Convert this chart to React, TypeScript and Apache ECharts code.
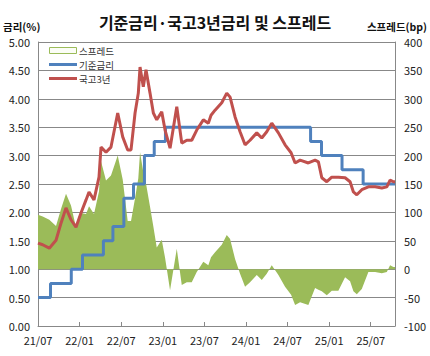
import React, { useEffect, useRef } from "react";
import * as echarts from "echarts";

// x values: months since 2021-07-01
const ktbX = [0, 0.68, 1.63, 2.6, 3.32, 4.04, 4.76, 5.48, 6.2, 6.93, 7.36, 8.08, 8.8, 9.09, 9.81, 10.53, 11.5, 12.22, 12.94, 13.42,
  14.0, 14.47, 14.72, 15.19, 15.58, 16.16, 16.64, 17.13, 17.85, 18.33, 19.05, 20.02, 20.74, 21.46, 22.18, 22.9, 23.85, 24.57, 24.96,
  25.54, 26.51, 27.23, 27.71, 28.43, 29.15, 29.87, 30.59, 31.56, 32.28, 33.0, 33.72, 34.68, 35.64, 36.51, 37.09, 37.81, 39.0, 39.97,
  40.45, 40.94, 41.66, 42.38, 43.33, 44.3, 45.02, 45.5, 45.99, 46.71, 47.66, 48.63, 49.6, 50.32, 50.79, 51.27, 51.5];
const ktbY = [1.46, 1.43, 1.37, 1.51, 1.81, 2.08, 1.87, 1.74, 1.99, 2.22, 2.36, 2.22, 2.62, 3.15, 3.06, 3.15, 3.75, 3.33, 3.1, 3.1,
  3.75, 4.1, 4.56, 4.21, 4.51, 4.1, 3.75, 3.63, 3.77, 3.45, 3.13, 3.86, 3.22, 3.27, 3.27, 3.45, 3.63, 3.57, 3.71,
  3.8, 3.93, 4.1, 4.03, 3.68, 3.42, 3.19, 3.27, 3.4, 3.31, 3.42, 3.57, 3.4, 3.19, 3.05, 2.87, 2.92, 2.87, 2.92,
  2.89, 2.61, 2.54, 2.62, 2.62, 2.61, 2.54, 2.36, 2.31, 2.4, 2.45, 2.45, 2.43, 2.45, 2.57, 2.54, 2.54];

const baseDates = ["2021-07-01", "2021-08-26", "2021-11-25", "2022-01-14", "2022-04-14", "2022-05-26", "2022-07-13", "2022-08-25",
  "2022-10-12", "2022-11-24", "2023-01-13", "2024-10-11", "2024-11-28", "2025-02-25", "2025-05-29", "2025-11-16"];
const baseRates = [0.5, 0.75, 1.0, 1.25, 1.5, 1.75, 2.25, 2.5, 3.0, 3.25, 3.5, 3.25, 3.0, 2.75, 2.5, 2.5];

const xTickLabels = ["21/07", "22/01", "22/07", "23/01", "23/07", "24/01", "24/07", "25/01", "25/07"];
const legendNames = ["스프레드", "기준금리", "국고3년"];

const toMonths = (s: string) => {
  const [y, m, d] = s.split("-").map(Number);
  const dim = new Date(y, m, 0).getDate();
  return (y - 2021) * 12 + (m - 7) + (d - 1) / dim;
};

const baseX = baseDates.map(toMonths);
const baseAt = (x: number) => {
  let r = baseRates[0];
  for (let i = 0; i < baseX.length; i++) if (baseX[i] <= x) r = baseRates[i];
  return r;
};
const spreadBp = ktbX.map((x, i) => Math.round((ktbY[i] - baseAt(x)) * 100));

const GRAY = "#888888";
const GREEN = "#9BBB59";
const BLUE = "#4F81BD";
const RED = "#C0504D";
const FONT = "'Noto Sans CJK KR', 'Noto Sans', sans-serif";

export default function App() {
  const ref = useRef<HTMLDivElement>(null);
  useEffect(() => {
    if (!ref.current) return;
    const chart = echarts.init(ref.current, undefined, { renderer: "svg" });
    const legendFont = `9.5px ${FONT}`;
    const rows = [50.5, 64.5, 78.5];
    chart.setOption({
      animation: false,
      backgroundColor: "#ffffff",
      textStyle: { fontFamily: FONT },
      title: {
        text: "기준금리·국고3년금리 및 스프레드",
        left: "center",
        top: 9,
        textStyle: { fontSize: 16, fontWeight: "bold", color: "#111", fontFamily: FONT },
      },
      legend: { show: false },
      graphic: [
        { type: "text", left: 3, top: 20, style: { text: "금리(%)", font: `bold 10.5px ${FONT}`, lineHeight: 12, fill: "#111" } },
        { type: "text", right: 3, top: 20, style: { text: "스프레드(bp)", font: `bold 10.5px ${FONT}`, lineHeight: 12, fill: "#111" } },
        { type: "rect", shape: { x: 49.5, y: rows[0] - 3, width: 27, height: 6 }, style: { fill: "#fbfdf6", stroke: GREEN, lineWidth: 1 }, z: 10 },
        { type: "text", x: 79, y: rows[0], style: { text: legendNames[0], font: legendFont, lineHeight: 11, fill: "#333", verticalAlign: "middle" }, z: 10 },
        { type: "line", shape: { x1: 49, y1: rows[1], x2: 77, y2: rows[1] }, style: { stroke: BLUE, lineWidth: 3 }, z: 10 },
        { type: "text", x: 79, y: rows[1], style: { text: legendNames[1], font: legendFont, lineHeight: 11, fill: "#333", verticalAlign: "middle" }, z: 10 },
        { type: "line", shape: { x1: 49, y1: rows[2], x2: 77, y2: rows[2] }, style: { stroke: RED, lineWidth: 3 }, z: 10 },
        { type: "text", x: 79, y: rows[2], style: { text: legendNames[2], font: legendFont, lineHeight: 11, fill: "#333", verticalAlign: "middle" }, z: 10 },
      ],
      grid: { left: 38, right: 35, top: 42, bottom: 30, containLabel: false },
      xAxis: {
        type: "value",
        min: 0,
        max: 51.5,
        interval: 6,
        axisLine: { show: true, lineStyle: { color: GRAY } },
        axisTick: { show: true, inside: true, length: 4, lineStyle: { color: GRAY } },
        splitLine: { show: false },
        axisLabel: {
          fontSize: 11,
          lineHeight: 12,
          color: "#222",
          fontFamily: "'Liberation Sans Narrow', " + FONT,
          showMaxLabel: false,
          formatter: (v: number) => (Math.abs(v % 6) < 1e-6 ? xTickLabels[Math.round(v / 6)] ?? "" : ""),
        },
      },
      yAxis: [
        {
          type: "value",
          min: 0,
          max: 5,
          interval: 0.5,
          axisLine: { show: true, lineStyle: { color: GRAY } },
          axisTick: { show: false },
          splitLine: { show: true, lineStyle: { color: GRAY, width: 1 } },
          axisLabel: { fontSize: 11, lineHeight: 12, color: "#222", margin: 8, formatter: (v: number) => v.toFixed(2) },
        },
        {
          type: "value",
          min: -100,
          max: 400,
          interval: 50,
          axisLine: { show: true, lineStyle: { color: GRAY } },
          axisTick: { show: false },
          splitLine: { show: false },
          axisLabel: { fontSize: 11, lineHeight: 12, color: "#222", margin: 9 },
        },
      ],
      series: [
        {
          name: legendNames[0],
          type: "line",
          yAxisIndex: 1,
          symbol: "none",
          lineStyle: { width: 0, color: GREEN },
          itemStyle: { color: GREEN },
          areaStyle: { color: GREEN, opacity: 1 },
          data: ktbX.map((x, i) => [x, spreadBp[i]]),
        },
        {
          name: legendNames[1],
          type: "line",
          step: "end",
          symbol: "none",
          lineStyle: { width: 3, color: BLUE },
          itemStyle: { color: BLUE },
          data: baseX.map((x, i) => [Math.min(x, 51.5), baseRates[i]]),
        },
        {
          name: legendNames[2],
          type: "line",
          symbol: "none",
          lineStyle: { width: 3, color: RED },
          itemStyle: { color: RED },
          data: ktbX.map((x, i) => [x, ktbY[i]]),
        },
      ],
    });
    return () => chart.dispose();
  }, []);
  return <div ref={ref} style={{ position: "fixed", left: 0, top: 0, width: 430, height: 356 }} />;
}
